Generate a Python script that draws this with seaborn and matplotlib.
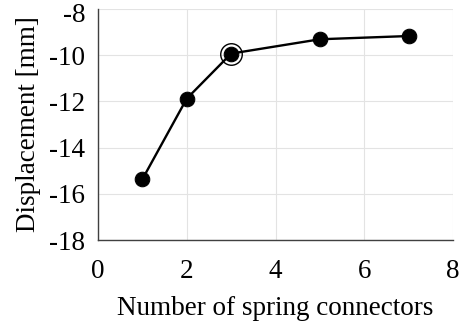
import matplotlib
matplotlib.use("Agg")
import matplotlib.pyplot as plt
import matplotlib.transforms as mtransforms
import seaborn as sns
import pandas as pd

connectors = [1, 2, 3, 5, 7]
displacement = [-15.37, -11.88, -9.93, -9.31, -9.17]
highlight_x = [3]
highlight_y = [-9.93]
x_ticks = [0, 2, 4, 6, 8]
y_ticks = [-18, -16, -14, -12, -10, -8]

sns.set_theme(style="whitegrid")
plt.rcParams['font.family'] = ['Liberation Serif', 'DejaVu Serif']

df = pd.DataFrame({"n": connectors, "d": displacement})

fig = plt.figure(figsize=(4.67, 3.24), dpi=100)
ax = fig.add_axes([98 / 467, 1 - 240 / 324, 355 / 467, 231 / 324])

sns.lineplot(data=df, x="n", y="d", ax=ax, color="black", linewidth=1.7,
             marker="o", markersize=10.5, markeredgecolor="black",
             markerfacecolor="black")
ax.plot(highlight_x, highlight_y, linestyle="none", marker="o", markersize=15.5,
        markerfacecolor="none", markeredgecolor="black", markeredgewidth=1.0)

ax.set_xlim(0, 8)
ax.set_ylim(-18, -8)
ax.set_xticks(x_ticks)
ax.set_yticks(y_ticks)
ax.set_xticklabels([str(v) for v in x_ticks])
ax.set_yticklabels([str(v) for v in y_ticks])

ax.set_facecolor("white")
ax.grid(True, color="#e3e3e3", linewidth=0.8)
for side in ("top", "right"):
    ax.spines[side].set_visible(False)
for side in ("left", "bottom"):
    ax.spines[side].set_visible(True)
    ax.spines[side].set_color("#404040")
    ax.spines[side].set_linewidth(1.0)

ax.tick_params(axis="both", direction="in", length=3, width=0.8, color="#404040",
               labelsize=19.5, labelcolor="black")
ax.tick_params(axis="x", pad=14)
ax.tick_params(axis="y", pad=9)
ax.set_xlabel("Number of spring connectors", fontsize=19.5, color="black", labelpad=8)
ax.set_ylabel("Displacement [mm]", fontsize=19.5, color="black", labelpad=6)

# keep the topmost y tick label inside the canvas
top_label = ax.get_yticklabels()[-1]
top_label.set_transform(top_label.get_transform() +
                        mtransforms.ScaledTranslation(0, -4 / 100, fig.dpi_scale_trans))

fig.savefig("out.png", dpi=100, facecolor="white")
